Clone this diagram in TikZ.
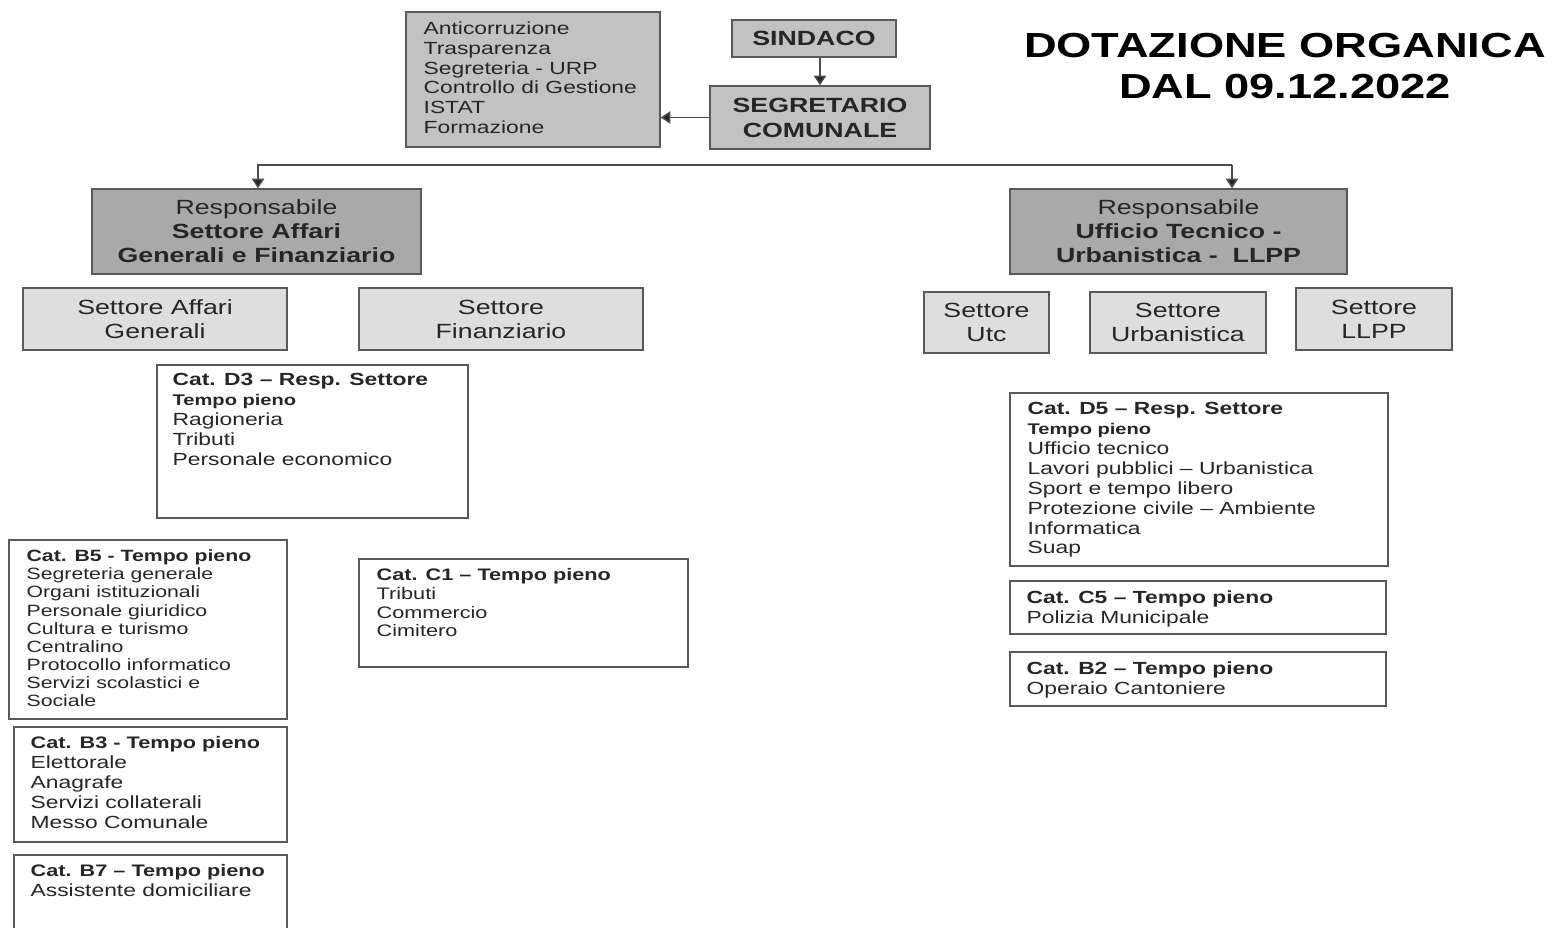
\documentclass[tikz,border=0pt]{standalone}
\usepackage{fontspec}
\setmainfont{Liberation Sans}[FakeStretch=1.3]
\usetikzlibrary{arrows.meta,calc}

\newcommand{\corpo}[2]{\fontsize{#1pt}{#2pt}\selectfont}
\definecolor{grigiomedio}{HTML}{C2C2C2}
\definecolor{grigioscuro}{HTML}{A9A9A9}
\definecolor{grigiochiaro}{HTML}{DEDEDE}

\begin{document}
\begin{tikzpicture}[
  x=0.02cm, y=0.02cm,
  text=black!85,
  misura/.style 2 args={minimum width=#1*0.02cm, minimum height=#2*0.02cm},
  scatola/.style={rectangle, draw=black!65, line width=0.8pt, inner sep=0pt},
  vertice/.style={scatola, fill=grigiomedio, align=center, font=\bfseries\corpo{11.7}{14.2}},
  resp/.style={scatola, fill=grigioscuro, align=center, font=\corpo{11.7}{13.6}},
  settore/.style={scatola, fill=grigiochiaro, align=center, font=\corpo{11.7}{13.6}},
  cat/.style={scatola, fill=white},
  elenco/.style={anchor=north west, align=left, inner sep=0pt, font=\corpo{10}{11.3}},
  ar/.style={-{Triangle[length=5.5pt,width=7pt,fill=black!85]}, draw=black!70, line width=0.8pt}
]
\useasboundingbox (0,0) rectangle (1555,-927);

% vertice
\node[scatola, fill=grigiomedio, misura={254}{135}] (funzioni) at (533,-79.5) {};
\node[elenco] (funzionit) at ($(funzioni.north west)+(18,-10)$) {Anticorruzione\\Trasparenza\\Segreteria - URP\\Controllo di Gestione\\ISTAT\\Formazione};
\node[vertice, misura={164}{37}] (sindaco) at (814,-38.5) {SINDACO};
\node[vertice, misura={220}{63}] (segretario) at (820,-117.5) {SEGRETARIO\\COMUNALE};
\node[align=center, text=black, font=\bfseries\corpo{19.8}{23.2}] (titolo) at (1285,-66) {DOTAZIONE ORGANICA\\DAL 09.12.2022};

\draw[ar] (segretario.north |- sindaco.south) -- (segretario.north);
\draw[ar] (segretario.west) -- (segretario.west -| funzioni.east);

% responsabili
\node[resp, misura={329}{85}] (respAG) at (256.5,-231.5) {Responsabile\\\textbf{Settore Affari}\\\textbf{Generali e Finanziario}};
\node[resp, misura={337}{85}] (respUT) at (1178.5,-231.5) {Responsabile\\\textbf{Ufficio Tecnico -}\\\textbf{Urbanistica -\ \ LLPP}};

\coordinate (busAG) at (258,-165);
\coordinate (busUT) at (1232,-165);
\draw[ar] (busUT) -- (busAG) -- (busAG |- respAG.north);
\draw[ar] (busUT) -- (busUT |- respUT.north);

% settori
\node[settore, misura={264}{62}] (affgen) at (155,-319) {Settore Affari\\Generali};
\node[settore, misura={284}{62}] (fin) at (501,-319) {Settore\\Finanziario};
\node[settore, misura={125}{61}] (utc) at (986.5,-322.5) {Settore\\Utc};
\node[settore, misura={176}{61}] (urb) at (1178,-322.5) {Settore\\Urbanistica};
\node[settore, misura={156}{62}] (llpp) at (1374,-319) {Settore\\LLPP};

% categorie - affari generali e finanziario
\node[cat, misura={311}{153}] (d3) at (312.5,-441.5) {};
\node[elenco] (d3t) at ($(d3.north west)+(16,-9)$) {\textbf{Cat. D3 – Resp. Settore}\\{\bfseries\corpo{8.8}{11.3}Tempo pieno}\\Ragioneria\\Tributi\\Personale economico};

\node[cat, misura={278}{179}] (b5) at (148,-629.5) {};
\node[elenco, font=\corpo{9.3}{10.35}] (b5t) at ($(b5.north west)+(18,-10)$) {\textbf{Cat. B5 - Tempo pieno}\\Segreteria generale\\Organi istituzionali\\Personale giuridico\\Cultura e turismo\\Centralino\\Protocollo informatico\\Servizi scolastici e\\Sociale};

\node[cat, misura={329}{108}] (c1) at (523.5,-613) {};
\node[elenco, font=\corpo{9.5}{10.6}] (c1t) at ($(c1.north west)+(18,-10)$) {\textbf{Cat. C1 – Tempo pieno}\\Tributi\\Commercio\\Cimitero};

\node[cat, misura={273}{115}] (b3) at (150.5,-784.5) {};
\node[elenco] (b3t) at ($(b3.north west)+(17,-10)$) {{\bfseries\corpo{9.5}{11.3}Cat. B3 - Tempo pieno}\\Elettorale\\Anagrafe\\Servizi collaterali\\Messo Comunale};

\node[cat, misura={273}{110}] (b7) at (150.5,-910) {};
\node[elenco] (b7t) at ($(b7.north west)+(17,-10)$) {{\bfseries\corpo{9.5}{11.3}Cat. B7 – Tempo pieno}\\Assistente domiciliare};

% categorie - ufficio tecnico
\node[cat, misura={378}{173}] (d5) at (1199,-479.5) {};
\node[elenco] (d5t) at ($(d5.north west)+(18,-10)$) {\textbf{Cat. D5 – Resp. Settore}\\{\bfseries\corpo{8.8}{11.3}Tempo pieno}\\Ufficio tecnico\\Lavori pubblici – Urbanistica\\Sport e tempo libero\\Protezione civile – Ambiente\\Informatica\\Suap};

\node[cat, misura={376}{53}] (c5) at (1198,-607.5) {};
\node[elenco] (c5t) at ($(c5.north west)+(17,-10)$) {\textbf{Cat. C5 – Tempo pieno}\\Polizia Municipale};

\node[cat, misura={376}{54}] (b2) at (1198,-679) {};
\node[elenco] (b2t) at ($(b2.north west)+(17,-10)$) {\textbf{Cat. B2 – Tempo pieno}\\Operaio Cantoniere};
\end{tikzpicture}
\end{document}
